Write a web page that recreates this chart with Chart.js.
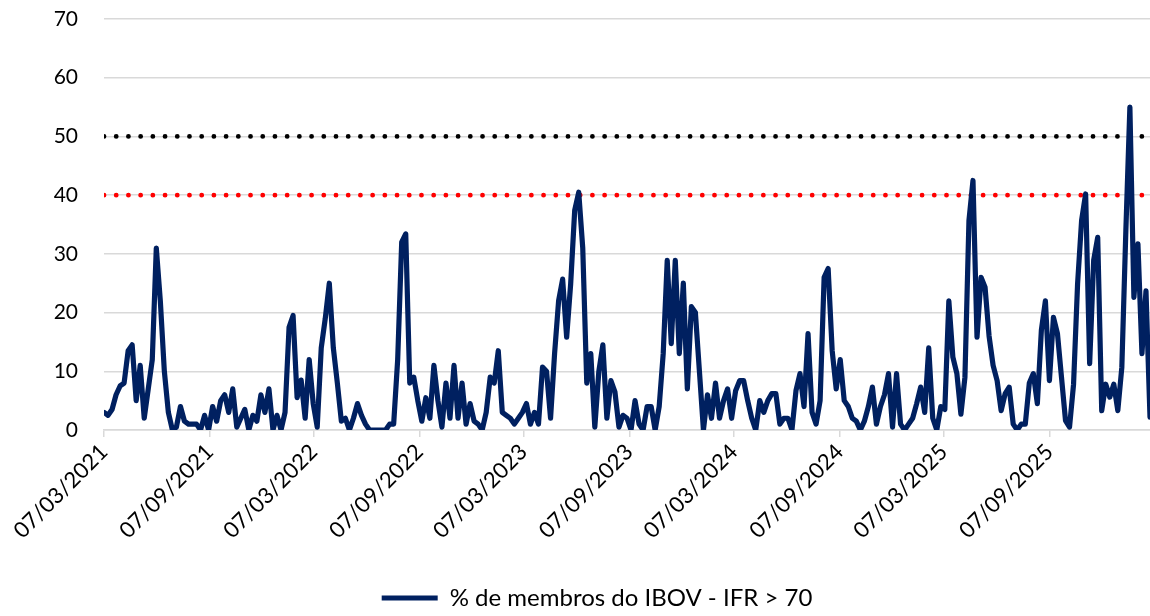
<!DOCTYPE html>
<html>
<head>
<meta charset="utf-8">
<script src="https://cdn.jsdelivr.net/npm/chart.js@4"></script>
<style>
  html, body { margin: 0; padding: 0; background: #fff; }
  #wrap { width: 1150px; height: 616px; }
</style>
</head>
<body>
<div id="wrap"><canvas id="myChart"></canvas></div>
<script>
'use strict';

const seriesLabel = '% de membros do IBOV - IFR > 70';
const startDate = '07/03/2021';
const stepDays = 7;

// one reading per week, starting at startDate
const weeklyValues = [
	3, 2.5, 3.5, 6, 7.5, 8, 13.5, 14.5, 5, 11,
	2, 7, 12, 31, 22, 10, 3, 0, 0.5, 4,
	1.5, 1, 1, 1, 0, 2.5, 0, 4, 1.5, 5,
	6, 3, 7, 0.5, 2, 3.5, 0, 2.5, 1.5, 6,
	3, 7, 0, 2.5, 0, 3, 17.5, 19.5, 5.5, 8.5,
	2, 12, 4.5, 0.5, 14, 19, 25, 14, 8, 1.5,
	2, 0, 2, 4.5, 2.5, 1, 0, 0, 0, 0,
	0, 1, 1, 12, 32, 33.4, 8, 9, 5, 1.5,
	5.5, 2, 11, 5, 0.5, 8, 2, 11, 2, 8,
	1, 4.5, 1.5, 1, 0, 3, 9, 8, 13.5, 3,
	2.5, 2, 1, 2, 3, 4.5, 1, 3, 1, 10.7,
	10, 2, 13, 22, 25.7, 15.8, 24.9, 37.4, 40.5, 31,
	8, 13, 0.5, 10, 14.5, 2, 8.4, 6.5, 0.5, 2.5,
	2, 0, 5, 1, 0, 4, 4, 0, 4, 13,
	28.9, 14.7, 28.9, 13, 25, 7, 21, 20, 10, 0,
	6, 2, 8, 2, 5, 7, 2, 6.7, 8.4, 8.4,
	5, 2, 0, 5, 3, 5, 6.2, 6.2, 1, 2,
	2, 0, 6.7, 9.6, 4, 16.4, 3, 1, 5, 26,
	27.5, 13.5, 7, 12, 5, 4, 2, 1.5, 0, 1.5,
	4, 7.3, 1, 4, 6, 9.6, 0.5, 9.6, 1, 0,
	1, 2, 4.5, 7.3, 3, 14, 2, 0, 4, 3.5,
	22, 12.4, 9.6, 2.7, 9, 35.7, 42.5, 15.8, 26, 24.3,
	16, 11, 8.4, 3.3, 6.2, 7.3, 1, 0, 1, 1,
	8, 9.6, 4.5, 17, 22, 8.4, 19.2, 16.4, 9, 1.6,
	0.5, 7.8, 24.9, 35.7, 40.2, 11.3, 28.9, 32.8, 3.3, 7.8,
	5.6, 7.8, 3.3, 10.7, 34, 55, 22.6, 31.7, 13, 23.7,
	2.2,
];

const tickLabels = [
	'07/03/2021', '07/09/2021', '07/03/2022', '07/09/2022', '07/03/2023',
	'07/09/2023', '07/03/2024', '07/09/2024', '07/03/2025', '07/09/2025',
];

const thresholdRed = 40;
const thresholdBlack = 50;

const FONT = 'Lato, "Open Sans", sans-serif';

// nudge the legend a bit to the right, like the source chart
const legendShift = {
	id: 'legendShift',
	afterLayout(chart) {
		if (chart.legend) {
			chart.legend.left += 22;
			chart.legend.right += 22;
		}
	},
};

generateGraph();

function toDays(label) {
	const [d, m, y] = label.split('/').map(Number);
	const [d0, m0, y0] = startDate.split('/').map(Number);
	return Math.round((Date.UTC(y, m - 1, d) - Date.UTC(y0, m0 - 1, d0)) / 86400000);
}

function generateGraph() {
	const points = weeklyValues.map((v, i) => ({ x: i * stepDays, y: v }));
	const lastX = (weeklyValues.length - 1) * stepDays;
	const tickDays = tickLabels.map(toDays);

	const ctx = document.getElementById('myChart').getContext('2d');
	new Chart(ctx, {
		type: 'line',
		plugins: [legendShift],
		data: {
			datasets: [
				{
					label: seriesLabel,
					data: points,
					borderColor: '#002060',
					backgroundColor: '#002060',
					borderWidth: 5.2,
					borderJoinStyle: 'round',
					borderCapStyle: 'round',
					pointRadius: 0,
					tension: 0,
					order: 0,
				},
				{
					label: 'limite 40',
					data: [{ x: 0, y: thresholdRed }, { x: lastX, y: thresholdRed }],
					borderColor: '#ff0000',
					borderWidth: 4.8,
					borderDash: [0.01, 12.2],
					borderCapStyle: 'round',
					pointRadius: 0,
					order: 1,
				},
				{
					label: 'limite 50',
					data: [{ x: 0, y: thresholdBlack }, { x: lastX, y: thresholdBlack }],
					borderColor: '#000000',
					borderWidth: 4.8,
					borderDash: [0.01, 12.2],
					borderCapStyle: 'round',
					pointRadius: 0,
					order: 1,
				},
			],
		},
		options: {
			responsive: true,
			maintainAspectRatio: false,
			animation: false,
			layout: { padding: { top: 19, right: 0, left: 0, bottom: -4 } },
			plugins: {
				tooltip: { enabled: false },
				legend: {
					position: 'bottom',
					labels: {
						filter: (item) => item.datasetIndex === 0,
						usePointStyle: true,
						pointStyle: 'line',
						pointStyleWidth: 56,
						boxHeight: 24,
						color: '#000',
						font: { family: FONT, size: 24 },
						padding: 2,
					},
				},
			},
			scales: {
				x: {
					type: 'linear',
					min: 0,
					max: lastX,
					afterBuildTicks: (axis) => {
						axis.ticks = tickDays.map((v) => ({ value: v }));
					},
					afterFit: (axis) => {
						axis.height = 154;
						axis.paddingTop = 0;
						axis.paddingBottom = 0;
					},
					ticks: {
						autoSkip: false,
						minRotation: 45,
						maxRotation: 45,
						color: '#000',
						font: { family: FONT, size: 22 },
						padding: 2,
						callback: (value) => tickLabels[tickDays.indexOf(value)] || '',
					},
					grid: {
						drawOnChartArea: false,
						drawTicks: true,
						tickLength: 7,
						color: '#d9d9d9',
						lineWidth: 1.5,
					},
					border: { display: true, color: '#d9d9d9', width: 1.5 },
				},
				y: {
					min: 0,
					max: 70,
					afterFit: (axis) => {
						axis.width = 104;
						axis.paddingTop = 0;
						axis.paddingBottom = 0;
					},
					ticks: {
						stepSize: 10,
						color: '#000',
						font: { family: FONT, size: 21 },
						padding: 26,
					},
					grid: {
						color: '#d9d9d9',
						lineWidth: 1.5,
						drawTicks: false,
					},
					border: { display: false },
				},
			},
		},
	});
}
</script>
</body>
</html>
